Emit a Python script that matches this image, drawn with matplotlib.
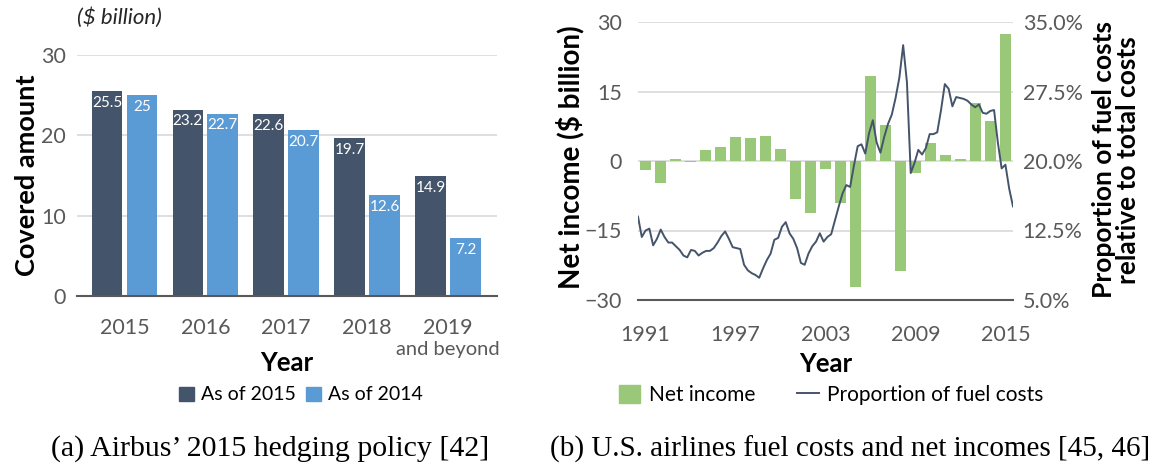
import numpy as np
import matplotlib
matplotlib.use("Agg")
import matplotlib.pyplot as plt
from matplotlib.lines import Line2D
from matplotlib.patches import Patch
from matplotlib.ticker import FuncFormatter

plt.rcParams["font.family"] = ["Lato", "DejaVu Sans"]

# (a) Airbus hedging policy
hedge_years = ["2015", "2016", "2017", "2018", "2019"]
covered_2015 = [25.5, 23.2, 22.6, 19.7, 14.9]
covered_2014 = [25.0, 22.7, 20.7, 12.6, 7.2]
covered_2014_labels = ["25", "22.7", "20.7", "12.6", "7.2"]

# (b) U.S. airlines, yearly net income and quarterly fuel share
income_years = list(range(1991, 2016))
net_income = [-1.9, -4.8, 0.4, -0.3, 2.4, 3.0, 5.2, 5.0, 5.4, 2.5,
              -8.3, -11.2, -1.8, -9.1, -27.2, 18.3, 7.7, -23.8, -2.5, 3.8,
              1.4, 0.4, 12.6, 8.6, 27.5]
fuel_share = [14.0, 11.8, 12.5, 12.7, 10.9, 11.6, 12.6, 11.8, 11.2, 11.2,
              10.8, 10.4, 9.8, 9.6, 10.4, 10.3, 9.8, 10.1, 10.3, 10.3,
              10.6, 11.2, 11.9, 12.4, 11.6, 10.7, 10.6, 10.5, 8.8, 8.2,
              7.9, 7.7, 7.4, 8.4, 9.3, 10.0, 11.5, 11.7, 12.9, 13.4,
              12.2, 11.6, 10.6, 9.0, 8.8, 10.0, 10.8, 11.3, 12.2, 11.3,
              11.8, 12.1, 13.6, 15.1, 16.5, 17.4, 17.2, 19.5, 21.6, 21.8,
              20.8, 23.0, 24.4, 22.0, 20.9, 22.6, 24.0, 25.0, 26.8, 29.0,
              32.5, 28.5, 18.7, 19.8, 21.2, 20.7, 21.4, 22.9, 22.9, 23.1,
              25.5, 28.3, 27.8, 25.9, 26.9, 26.8, 26.7, 26.5, 26.1, 25.8,
              26.1, 25.2, 25.1, 25.4, 25.5, 22.0, 19.2, 19.6, 17.0, 15.1]

DARK = "#44546A"
LIGHT = "#5B9BD5"
GREEN = "#99C878"
GRID = "#D9D9D9"
AXIS = "#595959"
TICK = "#595959"

W, H = 1151, 467
fig = plt.figure(figsize=(W / 100, H / 100), dpi=100)


def rect(x0, y0, x1, y1):
    return [x0 / W, 1 - y1 / H, (x1 - x0) / W, (y1 - y0) / H]


# ---- left panel
ax = fig.add_axes(rect(77, 55, 497, 296))
x = np.arange(len(hedge_years))
bw = 0.38
off = 0.216
b1 = ax.bar(x - off, covered_2015, bw, color=DARK, zorder=3)
b2 = ax.bar(x + off, covered_2014, bw, color=LIGHT, zorder=3)
for rects, vals in ((b1, [f"{v:g}" for v in covered_2015]), (b2, covered_2014_labels)):
    for r, lab in zip(rects, vals):
        ax.text(r.get_x() + r.get_width() / 2, r.get_height() - 0.6, lab,
                ha="center", va="top", color="white", fontsize=11)

ax.set_xlim(-0.587, 4.606)
ax.set_ylim(0, 30)
ax.set_yticks([0, 10, 20, 30])
ax.set_xticks(x)
ax.set_xticklabels(hedge_years)
ax.tick_params(axis="both", length=0, labelsize=15.5, colors=TICK)
ax.tick_params(axis="x", pad=16)
ax.tick_params(axis="y", pad=8)
ax.grid(axis="y", color=GRID, linewidth=1.2, zorder=0)
for s in ("top", "right", "left"):
    ax.spines[s].set_visible(False)
ax.spines["bottom"].set_color(AXIS)
ax.spines["bottom"].set_linewidth(1.5)
ax.spines["bottom"].set_zorder(4)
ax.text(4, -6.7, "and beyond", ha="center", va="center", fontsize=14.5,
        color=TICK, transform=ax.transData, clip_on=False)

fig.text(77 / W, 1 - 18 / H, "($ billion)", style="italic", fontsize=16,
         ha="left", va="center", color="#262626")
fig.text(27 / W, 1 - 175 / H, "Covered amount", rotation=90, fontsize=19.5,
         fontweight="bold", ha="center", va="center")
fig.text(287 / W, 1 - 363 / H, "Year", fontsize=18.5, fontweight="bold",
         ha="center", va="center")
fig.legend(handles=[Patch(color=DARK, label="As of 2015"),
                    Patch(color=LIGHT, label="As of 2014")],
           loc="center", bbox_to_anchor=(301 / W, 1 - 395 / H), ncol=2,
           frameon=False, fontsize=14, handlelength=0.75, handleheight=0.75,
           handletextpad=0.4, columnspacing=0.5)

# ---- right panel
axr = fig.add_axes(rect(638, 22, 1013, 300))
xi = np.arange(len(income_years))
axr.bar(xi, net_income, 0.67, color=GREEN, zorder=3)
axr.set_xlim(-0.5, len(income_years) - 0.5)
axr.set_ylim(-30, 30)
axr.set_yticks([-30, -15, 0, 15, 30])
axr.set_yticklabels(["\u221230", "\u221215", "0", "15", "30"])
tick_idx = [0, 6, 12, 18, 24]
axr.set_xticks(tick_idx)
axr.set_xticklabels([str(income_years[i]) for i in tick_idx])
axr.tick_params(axis="both", length=0, labelsize=15.5, colors=TICK)
axr.tick_params(axis="x", pad=18)
axr.tick_params(axis="y", pad=11.5)
axr.grid(axis="y", color=GRID, linewidth=1.2, zorder=0)
for s in ("top", "right", "left"):
    axr.spines[s].set_visible(False)
axr.spines["bottom"].set_color(AXIS)
axr.spines["bottom"].set_linewidth(1.5)

tw = axr.twinx()
qx = np.linspace(-0.5, len(income_years) - 0.5, len(fuel_share))
tw.plot(qx, fuel_share, color=DARK, linewidth=1.4, zorder=5)
tw.set_ylim(5, 35)
tw.set_yticks([5, 12.5, 20, 27.5, 35])
tw.yaxis.set_major_formatter(FuncFormatter(lambda v, p: f"{v:.1f}%"))
tw.tick_params(axis="y", length=0, labelsize=15.5, colors=TICK, pad=7)
for s in tw.spines.values():
    s.set_visible(False)

fig.text(570 / W, 1 - 157 / H, "Net income ($ billion)", rotation=90, fontsize=20,
         fontweight="bold", ha="center", va="center")
fig.text(1116 / W, 1 - 160 / H, "Proportion of fuel costs\nrelative to total costs",
         rotation=90, fontsize=19, fontweight="bold", ha="center", va="center",
         linespacing=0.95)
fig.text(826 / W, 1 - 364 / H, "Year", fontsize=18.5, fontweight="bold",
         ha="center", va="center")
fig.legend(handles=[Patch(color=GREEN, label="Net income"),
                    Line2D([], [], color=DARK, linewidth=1.4,
                           label="Proportion of fuel costs")],
           loc="center", bbox_to_anchor=(831 / W, 1 - 395 / H), ncol=2,
           frameon=False, fontsize=15, handlelength=1.05, handleheight=1.0,
           handletextpad=0.4, columnspacing=2.0)

# ---- captions
fig.text(270 / W, 1 - 449 / H, "(a) Airbus\u2019 2015 hedging policy [42]",
         family="Liberation Serif", fontsize=21.5, ha="center", va="center")
fig.text(850 / W, 1 - 449 / H, "(b) U.S. airlines fuel costs and net incomes [45, 46]",
         family="Liberation Serif", fontsize=21, ha="center", va="center")

fig.savefig("out.png", dpi=100)
